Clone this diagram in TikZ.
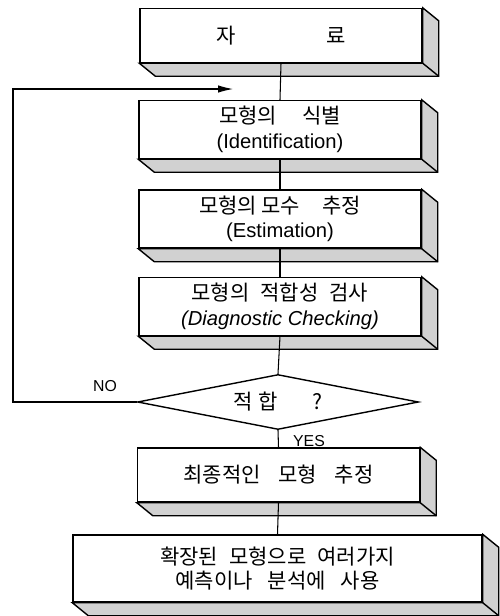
\documentclass[tikz,border=0pt]{standalone}
\usepackage{fontspec}
\setmainfont{Liberation Sans}
\newfontfamily\krfont[Scale=1.04]{Noto Sans CJK KR}
\usepackage{tikz}
\usetikzlibrary{shapes.geometric,arrows.meta}

\begin{document}
\begin{tikzpicture}
[
stepbox/.style={rectangle, draw=black, fill=white, thick, minimum width=5.64cm, minimum height=1.08cm, align=center, font=\fontsize{11.5}{14}\selectfont},
widebox/.style={stepbox, minimum width=8.18cm, minimum height=1.34cm},
testbox/.style={diamond, draw=black, fill=white, thick, inner sep=0pt, shape aspect=5.1, minimum width=5.62cm, minimum height=1.1cm, font=\fontsize{11.5}{14}\selectfont},
side/.style={draw=black, fill=black!18, thick},
link/.style={draw=black, semithick},
answer/.style={inner sep=1pt, font=\fontsize{9}{10}\selectfont}
]
\useasboundingbox (0,0) rectangle (10,-12.32);

%steps
\node at (5.62,-0.71) [stepbox] (data) {\krfont 자\hspace{1.8cm}료};
\node at (5.6,-2.59) [stepbox, minimum height=1.1cm] (ident) {{\krfont 모형의\hspace{0.5cm}식별}\\(Identification)};
\node at (5.6,-4.38) [stepbox] (est) {{\krfont 모형의\hspace{0.08cm}모수\hspace{0.45cm}추정}\\(Estimation)};
\node at (5.6,-6.13) [stepbox, minimum height=1.06cm] (diag) {{\krfont 모형의\hspace{0.22cm}적합성\hspace{0.22cm}검사}\\\textit{(Diagnostic Checking)}};

%test
\node at (5.56,-8.04) [testbox] (fit) {\krfont 적\hspace{0.1cm}합\hspace{0.7cm}?};

%result
\node at (5.57,-9.5) [stepbox] (final) {\krfont 최종적인\hspace{0.35cm}모형\hspace{0.35cm}추정};
\node at (5.55,-11.37) [widebox] (use) {{\krfont 확장된\hspace{0.22cm}모형으로\hspace{0.22cm}여러가지}\\{\krfont 예측이나\hspace{0.3cm}분석에\hspace{0.3cm}사용}};

%shaded bottom and right faces
\filldraw[side] (data.south west) -- ([shift={(0.32,-0.26)}]data.south west) -- ([shift={(0.32,-0.26)}]data.south east) -- ([shift={(0.32,-0.26)}]data.north east) -- (data.north east) -- (data.south east) -- cycle;
\draw[thick] (data.south east) -- ++(0.32,-0.26);
\filldraw[side] (ident.south west) -- ([shift={(0.32,-0.26)}]ident.south west) -- ([shift={(0.32,-0.26)}]ident.south east) -- ([shift={(0.32,-0.26)}]ident.north east) -- (ident.north east) -- (ident.south east) -- cycle;
\draw[thick] (ident.south east) -- ++(0.32,-0.26);
\filldraw[side] (est.south west) -- ([shift={(0.32,-0.26)}]est.south west) -- ([shift={(0.32,-0.26)}]est.south east) -- ([shift={(0.32,-0.26)}]est.north east) -- (est.north east) -- (est.south east) -- cycle;
\draw[thick] (est.south east) -- ++(0.32,-0.26);
\filldraw[side] (diag.south west) -- ([shift={(0.32,-0.26)}]diag.south west) -- ([shift={(0.32,-0.26)}]diag.south east) -- ([shift={(0.32,-0.26)}]diag.north east) -- (diag.north east) -- (diag.south east) -- cycle;
\draw[thick] (diag.south east) -- ++(0.32,-0.26);
\filldraw[side] (final.south west) -- ([shift={(0.32,-0.26)}]final.south west) -- ([shift={(0.32,-0.26)}]final.south east) -- ([shift={(0.32,-0.26)}]final.north east) -- (final.north east) -- (final.south east) -- cycle;
\draw[thick] (final.south east) -- ++(0.32,-0.26);
\filldraw[side] (use.south west) -- ([shift={(0.32,-0.26)}]use.south west) -- ([shift={(0.32,-0.26)}]use.south east) -- ([shift={(0.32,-0.26)}]use.north east) -- (use.north east) -- (use.south east) -- cycle;
\draw[thick] (use.south east) -- ++(0.32,-0.26);

%connectors
\draw[link] (data.south) -- (ident.north);
\draw[link] (ident.south) -- (est.north);
\draw[link] (est.south) -- (diag.north);
\draw[link] (diag.south) -- (fit.north);
\draw[link] (fit.south) -- (final.north);
\draw[link] (final.south) -- (use.north);

%loop back
\coordinate (back) at (0.26,-1.78);
\coordinate (backend) at (4.66,-1.78);
\draw[link, -{Latex[length=3mm, width=1.5mm]}] (fit.west) -| (back) -- (backend);
\node at (2.1,-7.72) [answer] (no) {NO};
\node at (6.18,-8.82) [answer] (yes) {YES};

\end{tikzpicture}
\end{document}
